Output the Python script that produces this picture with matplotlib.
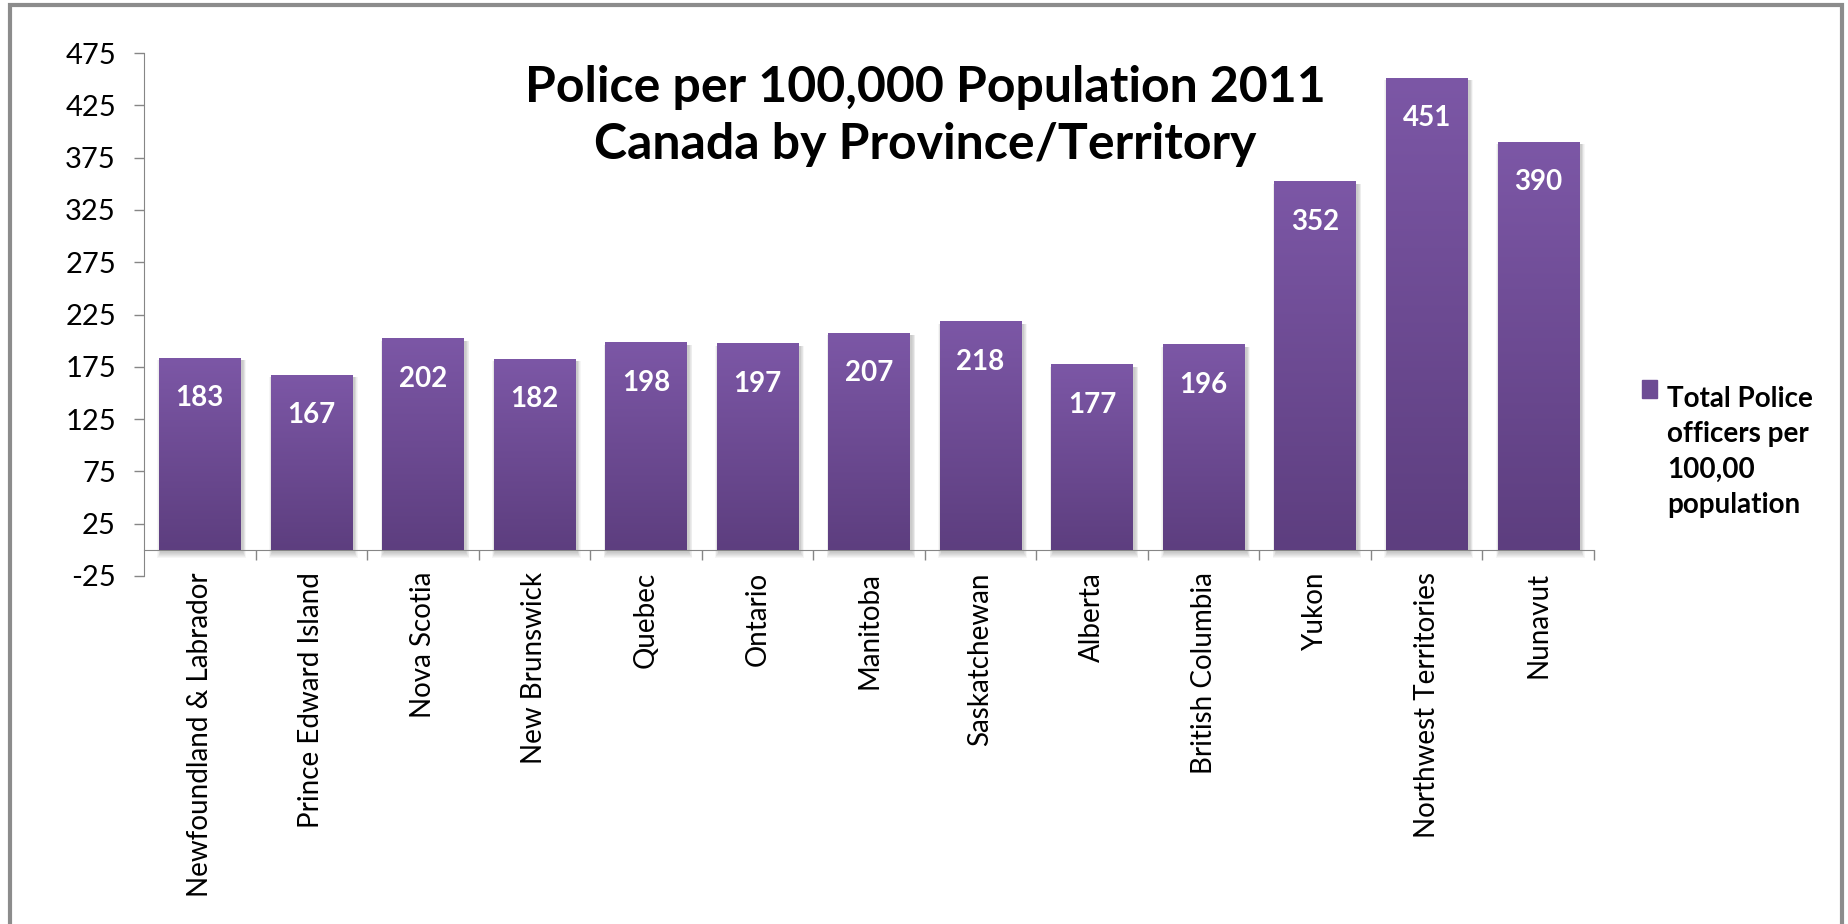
import numpy as np
import matplotlib.pyplot as plt
from matplotlib.colors import LinearSegmentedColormap
from matplotlib.patches import Rectangle

# data
provinces = ['Newfoundland & Labrador', 'Prince Edward Island', 'Nova Scotia',
             'New Brunswick', 'Quebec', 'Ontario', 'Manitoba', 'Saskatchewan',
             'Alberta', 'British Columbia', 'Yukon', 'Northwest Territories',
             'Nunavut']
police_rate = [183, 167, 202, 182, 198, 197, 207, 218, 177, 196, 352, 451, 390]
yticks = np.arange(-25, 476, 50)
series_name = 'Total Police\nofficers per\n100,00\npopulation'
title = 'Police per 100,000 Population 2011\nCanada by Province/Territory'

plt.rcParams['font.family'] = ['Lato', 'DejaVu Sans']
plt.rcParams['axes.unicode_minus'] = False

W, H = 1849, 924
fig = plt.figure(figsize=(W / 100, H / 100), dpi=100)
ax = fig.add_axes([144 / W, 1 - 576 / H, (1594 - 144) / W, (576 - 53) / H])

x = np.arange(len(provinces))
bars = ax.bar(x, police_rate, width=0.73, color='#6D4C94', zorder=2)

# vertical gradient on each bar, like the excel fill
cmap = LinearSegmentedColormap.from_list('purp', ['#5D3E7F', '#7C57A6'])
grad = np.linspace(0, 1, 256).reshape(-1, 1)
px_x = 1 / 111.5   # data units per pixel
px_y = 500 / 523.0
for b in bars:
    bx, bw, bh = b.get_x(), b.get_width(), b.get_height()
    # soft shadow
    for k in range(1, 7):
        ax.add_patch(Rectangle((bx - k * px_x * 0.6 + 2 * px_x, -k * px_y - 2 * px_y),
                               bw + k * 1.2 * px_x, bh + k * px_y,
                               color='black', alpha=0.035, lw=0, zorder=1))
    ax.imshow(grad, extent=[bx, bx + bw, 0, bh], origin='lower', cmap=cmap,
              aspect='auto', zorder=3)
    ax.annotate(str(int(bh)), (bx + bw / 2, bh), xytext=(0, -40),
                textcoords='offset pixels', ha='center', va='center',
                color='white', fontsize=20, fontweight='bold', zorder=4)

ax.set_xlim(-0.5, 12.5)
ax.set_ylim(-25, 475)

ax.spines['top'].set_visible(False)
ax.spines['right'].set_visible(False)
ax.spines['left'].set_color('#868686')
ax.spines['bottom'].set_color('#868686')
ax.spines['bottom'].set_position(('data', 0))

ax.set_yticks(yticks)
ax.tick_params(axis='y', length=7.2, width=1, color='#868686', pad=13,
               labelsize=21)
ax.set_xticks(x)
ax.set_xticklabels(provinces, rotation=90, va='top')
ax.set_xticks(x + 0.5, minor=True)
ax.tick_params(axis='x', which='major', length=0, pad=16, labelsize=20)
ax.tick_params(axis='x', which='minor', length=7.2, width=1, color='#868686')

fig.text(925 / W, 1 - 116 / H, title, ha='center', va='center',
         fontsize=36, fontweight='bold', linespacing=1.3)

# legend box drawn by hand
fig.patches.append(Rectangle((1642 / W, 1 - 398 / H), 15 / W, 18 / H,
                             transform=fig.transFigure, color='#6D4C94'))
fig.text(1667 / W, 1 - 452 / H, series_name, ha='left', va='center',
         fontsize=20, fontweight='bold', linespacing=1.45)

# outer chart border
fig.patches.append(Rectangle((10 / W, -0.1), (1842 - 10) / W, 1.1 - 5 / H,
                             transform=fig.transFigure, fill=False,
                             edgecolor='#8C8C8C', lw=3))

fig.savefig('out.png', dpi=100)
